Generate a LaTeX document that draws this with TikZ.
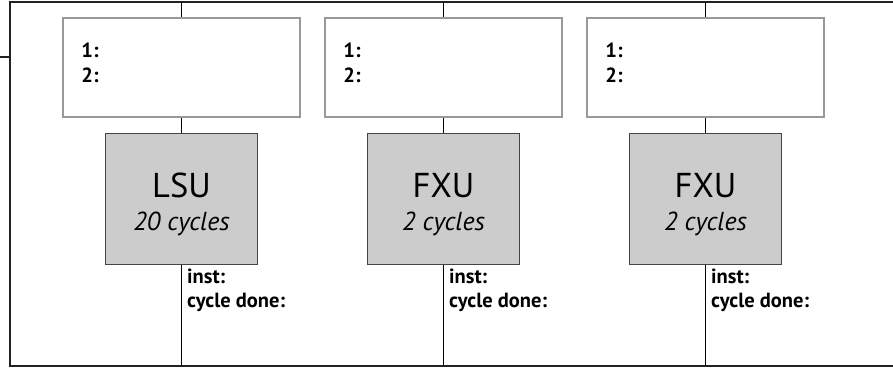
\documentclass[tikz,border=0pt]{standalone}
\usepackage{fontspec}
\setmainfont{PT Sans}
\definecolor{frame}{HTML}{222222}
\definecolor{rsborder}{HTML}{999999}
\definecolor{unitfill}{HTML}{CCCCCC}
\definecolor{unitborder}{HTML}{444444}
\begin{document}
\begin{tikzpicture}[x=1pt,y=-1pt,
  bus/.style={draw=frame,line width=2pt},
  link/.style={draw=black,line width=1.6pt},
  rsbox/.style={draw=rsborder,line width=1.6pt,fill=white,minimum width=237pt,minimum height=99pt,inner sep=0pt},
  unitbox/.style={draw=unitborder,line width=1.4pt,fill=unitfill,minimum width=152pt,minimum height=131pt,inner sep=0pt,align=center},
  slot/.style={font=\fontsize{20.5}{24}\selectfont\bfseries,anchor=base west,inner sep=0pt},
  unitname/.style={font=\fontsize{34.5}{38}\selectfont},
  unitlat/.style={font=\fontsize{26}{29}\selectfont\itshape},
]
\useasboundingbox (0,0) rectangle (893,367);
% bus frame
\coordinate (tl) at (10,2);
\coordinate (tr) at (893,2);
\coordinate (bl) at (10,366);
\coordinate (br) at (893,366);
\coordinate (stubL) at (0,57);
\coordinate (stubR) at (10,57);
\draw[bus] (tr) -- (tl) -- (bl) -- (br);
\draw[bus] (stubL) -- (stubR);

\foreach \i/\cx/\name/\lat in {1/181.5/LSU/20 cycles, 2/443.5/FXU/2 cycles, 3/705.5/FXU/2 cycles}{
  \coordinate (top\i) at (\cx,2);
  \coordinate (bot\i) at (\cx,366);
  \node[rsbox] (rs\i) at (\cx,67.5) {};
  \node[unitbox] (u\i) at (\cx,199) {};
  \node[unitname,anchor=base] (un\i) at (\cx,197) {\name};
  \node[unitlat,anchor=base] (ul\i) at (\cx,230) {\lat};
  \draw[link] (top\i) -- (rs\i.north);
  \draw[link] (rs\i.south) -- (u\i.north);
  \draw[link] (u\i.south) -- (bot\i);
  \node[slot] (s1\i) at ([xshift=19pt]rs\i.west |- 0,57) {1:};
  \node[slot] (s2\i) at ([xshift=19pt]rs\i.west |- 0,82) {2:};
  \node[slot] (in\i) at (\cx+5.5,283) {inst:};
  \node[slot] (cd\i) at (\cx+5.5,307) {cycle done:};
}
\end{tikzpicture}
\end{document}
